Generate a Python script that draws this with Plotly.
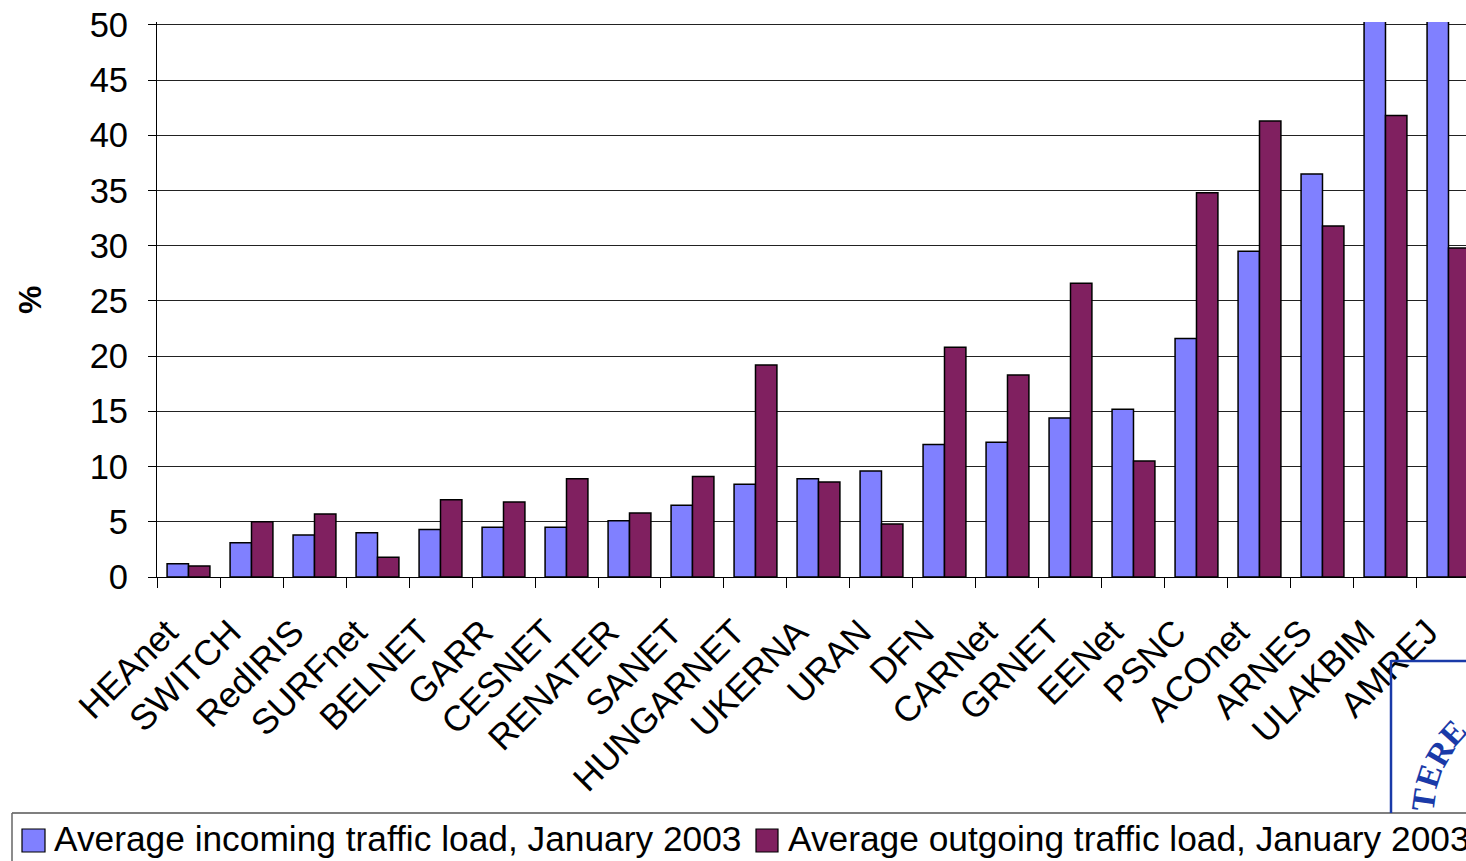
import plotly.graph_objects as go

categories = ["HEAnet", "SWITCH", "RedIRIS", "SURFnet", "BELNET", "GARR", "CESNET", "RENATER", "SANET",
              "HUNGARNET", "UKERNA", "URAN", "DFN", "CARNet", "GRNET", "EENet", "PSNC", "ACOnet", "ARNES",
              "ULAKBIM", "AMREJ"]
incoming = [1.2, 3.1, 3.8, 4.0, 4.3, 4.5, 4.5, 5.1, 6.5, 8.4, 8.9, 9.6, 12.0, 12.2, 14.4, 15.2, 21.6, 29.5, 36.5, 60, 60]
outgoing = [1.0, 5.0, 5.7, 1.8, 7.0, 6.8, 8.9, 5.8, 9.1, 19.2, 8.6, 4.8, 20.8, 18.3, 26.6, 10.5, 34.8, 41.3, 31.8, 41.8, 29.8]
in_name = "Average incoming traffic load, January 2003"
out_name = "Average outgoing traffic load, January 2003"
IN_COL, OUT_COL = "#8080ff", "#802060"
FONT = "Liberation Sans"
W, H, L, T, B = 1466, 861, 157, 22, 284
PW, PH = W - L, H - T - B

def px(x): return (x - L) / PW
def py(y): return (H - B - y) / PH

fig = go.Figure()
for name, vals, col in [(in_name, incoming, IN_COL), (out_name, outgoing, OUT_COL)]:
    fig.add_bar(x=categories, y=vals, name=name, marker=dict(color=col, line=dict(color="black", width=1.5)))

shapes = [
    dict(type="line", xref="paper", yref="paper", x0=px(12), x1=1.01, y0=py(813), y1=py(813), line=dict(color="black", width=1.2)),
    dict(type="line", xref="paper", yref="paper", x0=px(12), x1=px(12), y0=py(813), y1=py(870), line=dict(color="#666666", width=1.5)),
    dict(type="rect", xref="paper", yref="paper", x0=px(22), x1=px(45), y0=py(829), y1=py(852), fillcolor=IN_COL, line=dict(color="black", width=1.2)),
    dict(type="rect", xref="paper", yref="paper", x0=px(756), x1=px(778), y0=py(829), y1=py(852), fillcolor=OUT_COL, line=dict(color="black", width=1.2)),
    dict(type="line", xref="paper", yref="paper", x0=px(1391), x1=px(1391), y0=py(660), y1=py(813), line=dict(color="#1a3aa8", width=2.5)),
    dict(type="line", xref="paper", yref="paper", x0=px(1391), x1=1.01, y0=py(661), y1=py(661), line=dict(color="#1a3aa8", width=2.5)),
]
def note(text, x, y, size, color="black", angle=0, family=FONT, bold=False, xanchor="left"):
    t = f"<b>{text}</b>" if bold else text
    return dict(text=t, xref="paper", yref="paper", x=px(x), y=py(y), showarrow=False, xanchor=xanchor, yanchor="middle",
                textangle=angle, font=dict(size=size, color=color, family=family))
annotations = [
    note(in_name, 52, 838, 35.3),
    note(out_name, 786, 838, 35.3),
    note("%", 30, 300, 32, angle=-90, bold=True, xanchor="center"),
]
for ch, x, y, a in [("T", 1424, 800, -82), ("E", 1429, 776, -72), ("R", 1440, 753, -60), ("E", 1453, 733, -48)]:
    annotations.append(note(ch, x, y, 33, color="#1a3aa8", angle=a, family="Liberation Serif", bold=True, xanchor="center"))

fig.update_layout(
    width=W, height=H, margin=dict(l=L, r=0, t=T, b=B, autoexpand=False), plot_bgcolor="white", paper_bgcolor="white",
    barmode="group", bargap=0.32, bargroupgap=0, showlegend=False, shapes=shapes, annotations=annotations,
    font=dict(family=FONT, color="black"),
    xaxis=dict(type="category", categoryorder="array", categoryarray=categories, range=[-0.5, 20.278], tickson="boundaries",
               ticks="outside", ticklen=10, tickcolor="black", tickwidth=1, tickangle=-45, tickfont=dict(size=35.5),
               ticklabelstandoff=19, ticklabelshift=-21,
               showline=True, linecolor="black", linewidth=1.2, showgrid=False),
    yaxis=dict(range=[0, 50.27], tickvals=list(range(0, 51, 5)), ticks="outside", ticklen=8, tickcolor="black", tickwidth=1,
               tickfont=dict(size=34.5), ticklabelstandoff=13, showline=True, linecolor="black", linewidth=1.2, showgrid=True,
               gridcolor="#222222", gridwidth=1, zeroline=False),
)
fig.write_html("out.html", config=dict(displayModeBar=False),
               post_script="document.body.style.margin='0';document.body.style.overflow='hidden';")
